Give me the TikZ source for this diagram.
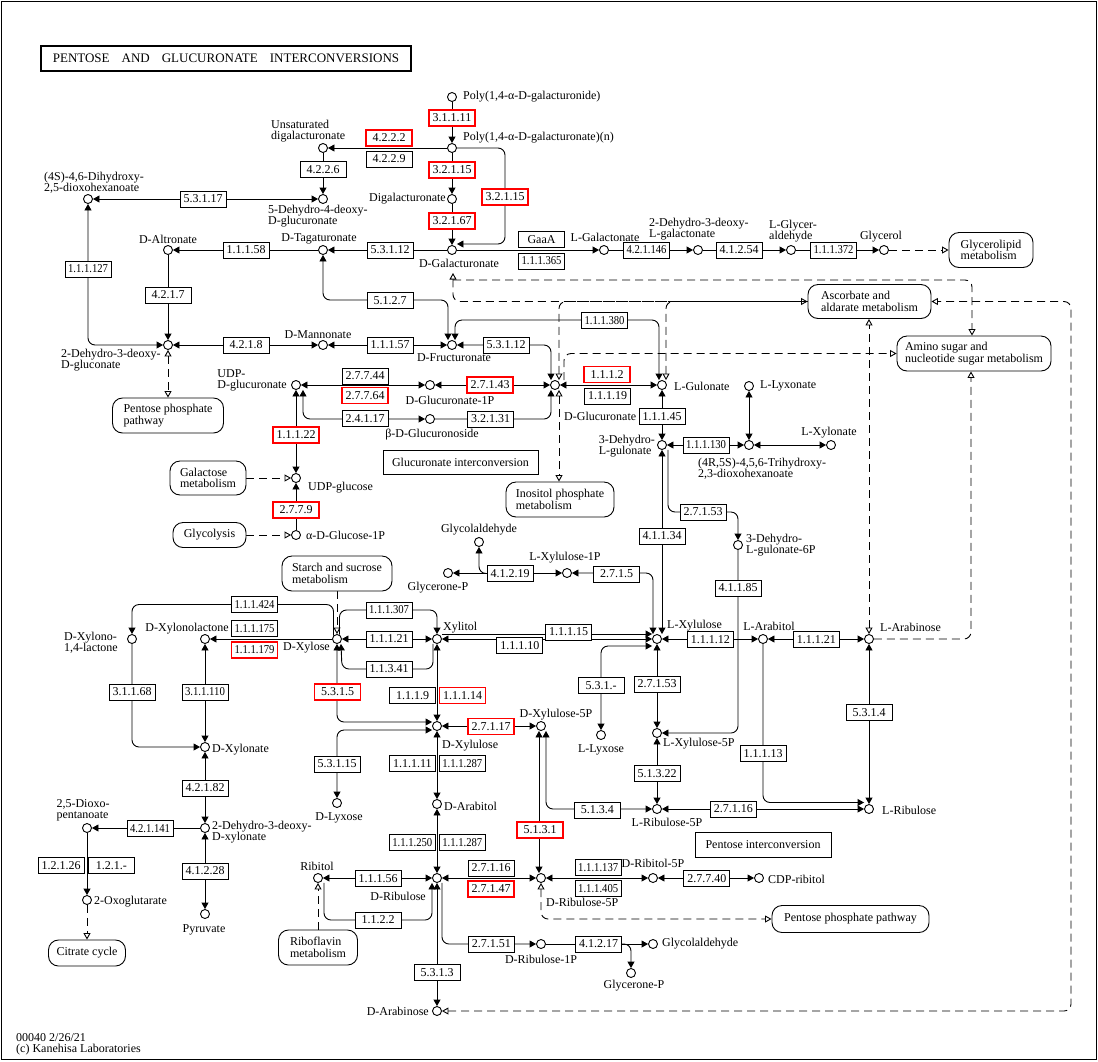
\documentclass[tikz,border=0pt]{standalone}
\usepackage{fontspec}
\setmainfont{Liberation Serif}
\usepackage{graphicx}
\usetikzlibrary{arrows.meta}
\pgfdeclarelayer{bg}
\pgfsetlayers{bg,main}
% squeeze long EC numbers into the box
\newcommand\ecn[1]{\setbox0=\hbox{#1}\ifdim\wd0>40pt\resizebox{40pt}{\height}{#1}\else#1\fi}

\tikzset{
  cpd/.style={circle, draw, fill=white, line width=0.9pt, minimum size=9pt, inner sep=0pt},
  lbl/.style={inner sep=0pt, align=left, font=\fontsize{12}{11}\selectfont},
  ec/.style={draw, fill=white, line width=0.9pt, minimum width=46pt, minimum height=16pt, inner sep=0pt, font=\fontsize{12}{12}\selectfont},
  ecred/.style={ec, draw=red, line width=1.6pt},
  pathmap/.style={draw, fill=white, line width=0.9pt, rounded corners=10pt, inner sep=0pt, align=left, font=\fontsize{12}{11.5}\selectfont},
  textbox/.style={draw, fill=white, line width=0.9pt, inner sep=0pt, font=\fontsize{12}{12}\selectfont},
  rx/.style={line width=0.9pt, rounded corners=7pt},
  lnk/.style={line width=0.9pt, rounded corners=7pt, dash pattern=on 8pt off 5pt},
  >={Triangle[length=6.5pt,width=7pt]},
  otri/.tip={Triangle[open,length=6.5pt,width=7pt]},
}

\begin{document}
\begin{tikzpicture}[x=1pt,y=-1pt]
\useasboundingbox (0,0) rectangle (1098,1061);
\draw[line width=1pt] (1,1) rectangle (1096,1059);
\node[draw, line width=2pt, minimum width=370pt, minimum height=25pt, inner sep=0pt, font=\fontsize{13}{13}\selectfont] (title) at (226,58.5) {PENTOSE\hspace{12pt}AND\hspace{12pt}GLUCURONATE\hspace{12pt}INTERCONVERSIONS};

% compounds
\node[cpd] (pgn) at (452,97) {};
\node[cpd] (pga) at (452,148) {};
\node[cpd] (udg) at (323,148) {};
\node[cpd] (dhdg) at (323,199) {};
\node[cpd] (dhox) at (88,199) {};
\node[cpd] (dig) at (452,199) {};
\node[cpd] (dgal) at (452,250) {};
\node[cpd] (tag) at (323,250) {};
\node[cpd] (alt) at (168,250) {};
\node[cpd] (kdg) at (168,345) {};
\node[cpd] (man) at (323,345) {};
\node[cpd] (fru) at (452,345) {};
\node[cpd] (lgal) at (604,250) {};
\node[cpd] (kdgal) at (698,250) {};
\node[cpd] (lgla) at (791,250) {};
\node[cpd] (glyc) at (884,250) {};
\node[cpd] (udpga) at (296,385) {};
\node[cpd] (ga1p) at (430,385) {};
\node[cpd] (dglc) at (555,385) {};
\node[cpd] (lgul) at (662,385) {};
\node[cpd] (bglc) at (430,419) {};
\node[cpd] (udpg) at (296,478) {};
\node[cpd] (g1p) at (296,535) {};
\node[cpd] (kgul) at (662,445) {};
\node[cpd] (thdh) at (749,445) {};
\node[cpd] (llyxo) at (749,386) {};
\node[cpd] (lxyo) at (831,445) {};
\node[cpd] (kg6p) at (738,545) {};
\node[cpd] (lx1p) at (567,573) {};
\node[cpd] (gnp1) at (448,573) {};
\node[cpd] (gald1) at (479,542) {};
\node[cpd] (dxyl) at (337,639) {};
\node[cpd] (xylt) at (437,639) {};
\node[cpd] (lxyl) at (657,639) {};
\node[cpd] (larl) at (763,639) {};
\node[cpd] (lara) at (869,639) {};
\node[cpd] (dxlac) at (205,639) {};
\node[cpd] (dx14) at (132,639) {};
\node[cpd] (dxlo) at (205,747) {};
\node[cpd] (kdx) at (205,828) {};
\node[cpd] (dop) at (87,828) {};
\node[cpd] (ogl) at (87,900) {};
\node[cpd] (pyr) at (205,914) {};
\node[cpd] (dxlu) at (437,726) {};
\node[cpd] (x5p) at (541,726) {};
\node[cpd] (dlyx) at (337,803) {};
\node[cpd] (llyx) at (601,735) {};
\node[cpd] (lx5p) at (657,733) {};
\node[cpd] (lr5p) at (657,809) {};
\node[cpd] (lrib) at (869,809) {};
\node[cpd] (darl) at (437,804) {};
\node[cpd] (drib) at (437,878) {};
\node[cpd] (ribt) at (318,878) {};
\node[cpd] (r5p) at (541,878) {};
\node[cpd] (rt5p) at (653,878) {};
\node[cpd] (cdpr) at (759,878) {};
\node[cpd] (r1p) at (541,944) {};
\node[cpd] (gald2) at (653,944) {};
\node[cpd] (gnp2) at (631,973) {};
\node[cpd] (dara) at (437,1011) {};
\coordinate (dgalx) at (453,273);
\coordinate (dgaly) at (453,280);

% compound names
\node[lbl, anchor=west] (pgn-t) at (463,97) {Poly(1,4-α-D-galacturonide)};
\node[lbl, anchor=west] (pga-t) at (463,138) {Poly(1,4-α-D-galacturonate)(n)};
\node[lbl, anchor=south west] (udg-t) at (271,142) {Unsaturated\\digalacturonate};
\node[lbl, anchor=north west] (dhdg-t) at (268,205) {5-Dehydro-4-deoxy-\\D-glucuronate};
\node[lbl, anchor=south west] (dhox-t) at (44,194) {(4S)-4,6-Dihydroxy-\\2,5-dioxohexanoate};
\node[lbl, anchor=east] (dig-t) at (446,199) {Digalacturonate};
\node[lbl, anchor=north] (dgal-t) at (459,259) {D-Galacturonate};
\node[lbl, anchor=south] (tag-t) at (319,244) {D-Tagaturonate};
\node[lbl, anchor=south] (alt-t) at (168,244) {D-Altronate};
\node[lbl, anchor=north west] (kdg-t) at (61,349) {2-Dehydro-3-deoxy-\\D-gluconate};
\node[lbl, anchor=south] (man-t) at (318,339) {D-Mannonate};
\node[lbl, anchor=north] (fru-t) at (454,353) {D-Fructuronate};
\node[lbl, anchor=south] (lgal-t) at (605,242) {L-Galactonate};
\node[lbl, anchor=south west] (kdgal-t) at (649,240) {2-Dehydro-3-deoxy-\\L-galactonate};
\node[lbl, anchor=south west] (lgla-t) at (769,242) {L-Glycer-\\aldehyde};
\node[lbl, anchor=south] (glyc-t) at (881,242) {Glycerol};
\node[lbl, anchor=east] (udpga-t) at (287,380) {UDP-\\D-glucuronate};
\node[lbl, anchor=north] (ga1p-t) at (450,396) {D-Glucuronate-1P};
\node[lbl, anchor=west] (dglc-t) at (564,416) {D-Glucuronate};
\node[lbl, anchor=west] (lgul-t) at (674,386) {L-Gulonate};
\node[lbl, anchor=north] (bglc-t) at (432,429) {β-D-Glucuronoside};
\node[lbl, anchor=west] (udpg-t) at (308,488) {UDP-glucose};
\node[lbl, anchor=west] (g1p-t) at (306,535) {α-D-Glucose-1P};
\node[lbl, anchor=east] (kgul-t) at (655,446) {3-Dehydro-\\L-gulonate};
\node[lbl, anchor=north west] (thdh-t) at (698,458) {(4R,5S)-4,5,6-Trihydroxy-\\2,3-dioxohexanoate};
\node[lbl, anchor=west] (llyxo-t) at (760,386) {L-Lyxonate};
\node[lbl, anchor=south] (lxyo-t) at (829,438) {L-Xylonate};
\node[lbl, anchor=west] (kg6p-t) at (746,545) {3-Dehydro-\\L-gulonate-6P};
\node[lbl, anchor=south] (lx1p-t) at (565,563) {L-Xylulose-1P};
\node[lbl, anchor=north] (gnp1-t) at (438,582) {Glycerone-P};
\node[lbl, anchor=south] (gald1-t) at (479,535) {Glycolaldehyde};
\node[lbl, anchor=north east] (dxyl-t) at (330,642) {D-Xylose};
\node[lbl, anchor=south west] (xylt-t) at (443,633) {Xylitol};
\node[lbl, anchor=south west] (lxyl-t) at (667,631) {L-Xylulose};
\node[lbl, anchor=south] (larl-t) at (769,631) {L-Arabitol};
\node[lbl, anchor=south west] (lara-t) at (880,632) {L-Arabinose};
\node[lbl, anchor=south east] (dxlac-t) at (229,634) {D-Xylonolactone};
\node[lbl, anchor=east] (dx14-t) at (118,643) {D-Xylono-\\1,4-lactone};
\node[lbl, anchor=west] (dxlo-t) at (212,750) {D-Xylonate};
\node[lbl, anchor=west] (kdx-t) at (212,832) {2-Dehydro-3-deoxy-\\D-xylonate};
\node[lbl, anchor=south] (dop-t) at (83,821) {2,5-Dioxo-\\pentanoate};
\node[lbl, anchor=west] (ogl-t) at (94,902) {2-Oxoglutarate};
\node[lbl, anchor=north] (pyr-t) at (204,924) {Pyruvate};
\node[lbl, anchor=north west] (dxlu-t) at (442,740) {D-Xylulose};
\node[lbl, anchor=south] (x5p-t) at (556,720) {D-Xylulose-5P};
\node[lbl, anchor=north] (dlyx-t) at (339,812) {D-Lyxose};
\node[lbl, anchor=north] (llyx-t) at (601,744) {L-Lyxose};
\node[lbl, anchor=north west] (lx5p-t) at (663,738) {L-Xylulose-5P};
\node[lbl, anchor=north] (lr5p-t) at (667,818) {L-Ribulose-5P};
\node[lbl, anchor=west] (lrib-t) at (882,810) {L-Ribulose};
\node[lbl, anchor=west] (darl-t) at (444,806) {D-Arabitol};
\node[lbl, anchor=north east] (drib-t) at (426,892) {D-Ribulose};
\node[lbl, anchor=south] (ribt-t) at (317,871) {Ribitol};
\node[lbl, anchor=north west] (r5p-t) at (546,898) {D-Ribulose-5P};
\node[lbl, anchor=south] (rt5p-t) at (653,868) {D-Ribitol-5P};
\node[lbl, anchor=west] (cdpr-t) at (768,879) {CDP-ribitol};
\node[lbl, anchor=north] (r1p-t) at (541,955) {D-Ribulose-1P};
\node[lbl, anchor=west] (gald2-t) at (662,944) {Glycolaldehyde};
\node[lbl, anchor=north] (gnp2-t) at (634,980) {Glycerone-P};
\node[lbl, anchor=east] (dara-t) at (429,1011) {D-Arabinose};

% enzymes
\node[ecred] (e31111) at (452,118) {\ecn{3.1.1.11}};
\node[ecred] (e4222) at (389,138) {\ecn{4.2.2.2}};
\node[ec] (e4229) at (389,159) {\ecn{4.2.2.9}};
\node[ec] (e4226) at (323,169.5) {\ecn{4.2.2.6}};
\node[ecred] (e32115a) at (452,170) {\ecn{3.2.1.15}};
\node[ecred] (e32115b) at (505,197) {\ecn{3.2.1.15}};
\node[ecred] (e32167) at (452,221) {\ecn{3.2.1.67}};
\node[ec] (e53117) at (203,199) {\ecn{5.3.1.17}};
\node[ec] (e11158) at (246,250) {\ecn{1.1.1.58}};
\node[ec] (e53112a) at (390,250) {\ecn{5.3.1.12}};
\node[ec] (egaaa) at (541.5,239.5) {\ecn{GaaA}};
\node[ec] (e111365) at (541.5,261) {\ecn{1.1.1.365}};
\node[ec] (e421146) at (646.5,250) {\ecn{4.2.1.146}};
\node[ec] (e41254) at (739,250) {\ecn{4.1.2.54}};
\node[ec] (e111372) at (833.5,250) {\ecn{1.1.1.372}};
\node[ec] (e111127) at (88,269) {\ecn{1.1.1.127}};
\node[ec] (e4217) at (168,295) {\ecn{4.2.1.7}};
\node[ec] (e5127) at (390,300.5) {\ecn{5.1.2.7}};
\node[ec] (e111380) at (604.5,320.5) {\ecn{1.1.1.380}};
\node[ec] (e4218) at (246,345) {\ecn{4.2.1.8}};
\node[ec] (e11157) at (390,345) {\ecn{1.1.1.57}};
\node[ec] (e53112b) at (506,345) {\ecn{5.3.1.12}};
\node[ec] (e2744) at (365,376) {\ecn{2.7.7.44}};
\node[ecred] (e2764) at (365,395.5) {\ecn{2.7.7.64}};
\node[ec] (e24117) at (365,418.5) {\ecn{2.4.1.17}};
\node[ecred] (e27143) at (490,385) {\ecn{2.7.1.43}};
\node[ec] (e32131) at (490.5,419) {\ecn{3.2.1.31}};
\node[ecred] (e1112) at (607,374.5) {\ecn{1.1.1.2}};
\node[ec] (e11119) at (607.5,396) {\ecn{1.1.1.19}};
\node[ec] (e11145) at (662,416.5) {\ecn{1.1.1.45}};
\node[ec] (e111130) at (706,445) {\ecn{1.1.1.130}};
\node[ecred] (e11122) at (296,435) {\ecn{1.1.1.22}};
\node[ecred] (e2779) at (296,510) {\ecn{2.7.7.9}};
\node[ec] (e27153a) at (703,512) {\ecn{2.7.1.53}};
\node[ec] (e41134) at (662,536) {\ecn{4.1.1.34}};
\node[ec] (e41185) at (738,588) {\ecn{4.1.1.85}};
\node[ec] (e2715) at (616.5,574) {\ecn{2.7.1.5}};
\node[ec] (e41219) at (510,573.5) {\ecn{4.1.2.19}};
\node[ec] (e111424) at (254.5,604.5) {\ecn{1.1.1.424}};
\node[ec] (e111175) at (254.5,628.7) {\ecn{1.1.1.175}};
\node[ecred] (e111179) at (254.5,649.7) {\ecn{1.1.1.179}};
\node[ec] (e111307) at (389,610) {\ecn{1.1.1.307}};
\node[ec] (e11121a) at (389,639) {\ecn{1.1.1.21}};
\node[ec] (e11341) at (389,669) {\ecn{1.1.3.41}};
\node[ec] (e11115) at (568.7,632) {\ecn{1.1.1.15}};
\node[ec] (e11110) at (519.8,645.7) {\ecn{1.1.1.10}};
\node[ec] (e11112) at (710.3,639.5) {\ecn{1.1.1.12}};
\node[ec] (e11121b) at (816.3,639.5) {\ecn{1.1.1.21}};
\node[ecred] (e5315) at (337.5,692) {\ecn{5.3.1.5}};
\node[ec] (e1119) at (412.5,695.3) {\ecn{1.1.1.9}};
\node[ecred] (e11114) at (462.5,695.3) {\ecn{1.1.1.14}};
\node[ec] (e31168) at (132,692) {\ecn{3.1.1.68}};
\node[ec] (e311110) at (205,692) {\ecn{3.1.1.110}};
\node[ec] (e531x) at (601,685.3) {\ecn{5.3.1.-}};
\node[ec] (e27153b) at (657,684) {\ecn{2.7.1.53}};
\node[ec] (e5314) at (869,712.5) {\ecn{5.3.1.4}};
\node[ecred] (e27117) at (491,726.5) {\ecn{2.7.1.17}};
\node[ec] (e53115) at (337,764) {\ecn{5.3.1.15}};
\node[ec] (e11111) at (412.3,763.8) {\ecn{1.1.1.11}};
\node[ec] (e111287a) at (462.3,763.8) {\ecn{1.1.1.287}};
\node[ec] (e11113) at (763,753.7) {\ecn{1.1.1.13}};
\node[ec] (e51322) at (657,773.7) {\ecn{5.1.3.22}};
\node[ec] (e42182) at (205,788) {\ecn{4.2.1.82}};
\node[ec] (e5134) at (597.3,810) {\ecn{5.1.3.4}};
\node[ec] (e27116a) at (733.3,809) {\ecn{2.7.1.16}};
\node[ecred] (e5131) at (540,829.7) {\ecn{5.1.3.1}};
\node[ec] (e421141) at (150,828.5) {\ecn{4.2.1.141}};
\node[ec] (e111250) at (412.3,842.7) {\ecn{1.1.1.250}};
\node[ec] (e111287b) at (462.3,842.7) {\ecn{1.1.1.287}};
\node[ec] (e12126) at (61.2,865.5) {\ecn{1.2.1.26}};
\node[ec] (e121x) at (111.3,865.5) {\ecn{1.2.1.-}};
\node[ec] (e41228) at (205,871) {\ecn{4.1.2.28}};
\node[ec] (e27116b) at (491,868) {\ecn{2.7.1.16}};
\node[ecred] (e27147) at (491,889) {\ecn{2.7.1.47}};
\node[ec] (e111137) at (598.2,867.7) {\ecn{1.1.1.137}};
\node[ec] (e111405) at (598.2,888.8) {\ecn{1.1.1.405}};
\node[ec] (e11156) at (378,878.5) {\ecn{1.1.1.56}};
\node[ec] (e27740) at (706.8,878.5) {\ecn{2.7.7.40}};
\node[ec] (e1122) at (378,920) {\ecn{1.1.2.2}};
\node[ec] (e27151) at (491.3,944) {\ecn{2.7.1.51}};
\node[ec] (e41217) at (598.5,944) {\ecn{4.1.2.17}};
\node[ec] (e5313) at (437,972.7) {\ecn{5.3.1.3}};

% maps and titles
\node[pathmap, minimum width=84pt, minimum height=35pt] (glmap) at (991,250) {Glycerolipid\\metabolism};
\node[pathmap, minimum width=123pt, minimum height=34pt] (ascmap) at (869.5,301.5) {Ascorbate and\\aldarate metabolism};
\node[pathmap, minimum width=154pt, minimum height=35pt] (amimap) at (974,353.5) {Amino sugar and\\nucleotide sugar metabolism};
\node[pathmap, minimum width=111pt, minimum height=35pt] (ppp1) at (168,415.5) {Pentose phosphate\\pathway};
\node[pathmap, minimum width=76pt, minimum height=34pt] (galmap) at (208,478) {Galactose\\metabolism};
\node[pathmap, minimum width=73pt, minimum height=25pt] (glymap) at (209.5,535) {Glycolysis};
\node[pathmap, minimum width=108pt, minimum height=35pt] (inomap) at (560,499.5) {Inositol phosphate\\metabolism};
\node[pathmap, minimum width=110pt, minimum height=35pt] (stamap) at (337,573.5) {Starch and sucrose\\metabolism};
\node[pathmap, minimum width=77pt, minimum height=26pt] (citmap) at (87,953) {Citrate cycle};
\node[pathmap, minimum width=79pt, minimum height=35pt] (ribmap) at (318,947.5) {Riboflavin\\metabolism};
\node[pathmap, minimum width=157pt, minimum height=27pt] (ppp2) at (850.5,919) {Pentose phosphate pathway};
\node[textbox, minimum width=155pt, minimum height=24pt] (gicbox) at (460.5,462) {Glucuronate interconversion};
\node[textbox, minimum width=136pt, minimum height=25pt] (picbox) at (763,844.5) {Pentose interconversion};
\node[lbl, anchor=north west, font=\fontsize{12}{11.5}\selectfont] (credit) at (16,1033) {00040 2/26/21\\(c) Kanehisa Laboratories};

\begin{pgfonlayer}{bg}
% galacturonate
\draw[rx,->] (pgn) -- (pga);
\draw[rx,->] (pga) -- (udg);
\draw[rx,->] (udg) -- (dhdg);
\draw[rx,<->] (dhox) -- (dhdg);
\draw[rx,->] (pga) -- (dig);
\draw[rx,->] (dig) -- (dgal);
\draw[rx,->] (pga) -| (505,244) -- ([yshift=6pt]dgal.east);
\draw[rx,->] (dgal) -- (tag);
\draw[rx,->] (tag) -- (alt);
\draw[rx,->] (alt) -- (kdg);
\draw[rx,<->] (kdg) -| (dhox);
\draw[rx,<->] (man) -- (kdg);
\draw[rx,<->] (man) -- (fru);
\draw[rx,<->] (tag) |- (448,300) -- ([xshift=-4pt]fru.north);
\draw[rx,<->] ([xshift=3pt]fru.north) |- (659,320) -- ([xshift=-3pt]lgul.north);
\draw[rx,<->] (fru) -| ([xshift=-4pt]dglc.north);
\draw[rx,->] (dgal) -- (lgal);
\draw[rx,->] (lgal) -- (kdgal);
\draw[rx,->] (kdgal) -- (lgla);
\draw[rx,->] (lgla) -- (glyc);
% glucuronate
\draw[rx,<->] (udpga) -- (ga1p);
\draw[rx,<->] (ga1p) -- (dglc);
\draw[rx,<->] (dglc) -- (lgul);
\draw[rx,->] (bglc) -| ([xshift=-4pt]dglc.south);
\draw[rx,<->] ([xshift=7pt]udpga.south) |- (bglc);
\draw[rx,<->] (udpg) -- (udpga);
\draw[rx,->] (g1p) -- (udpg);
% L-gulonate
\draw[rx,<->] (kgul) -- (lgul);
\draw[rx,<->] (thdh) -- (kgul);
\draw[rx,<->] (thdh) -- (llyxo);
\draw[rx,<->] (thdh) -- (lxyo);
\draw[rx,->] ([xshift=6pt]kgul.south) |- (738,512) -- (kg6p);
\draw[rx,<->] (kgul) -- ([xshift=5pt]lxyl.north);
\draw[rx,->] (kg6p) |- (lx5p);
\draw[rx,<->] (lx1p) -| ([xshift=-4pt]lxyl.north);
\draw[rx,<->] (gnp1) -- (lx1p);
\draw[rx,->] (e41219.west) -| (gald1);
% xylose
\draw[rx,->] (dxyl) -- (dxlac);
\draw[rx,->] (dxyl.135) |- (132,604.5) -- (dx14);
\draw[rx,->] (dx14) |- (dxlo);
\draw[rx,<->] (dxlac) -- (dxlo);
\draw[rx,<->] (dxlo) -- (kdx);
\draw[rx,->] (kdx) -- (dop);
\draw[rx,->] (dop) -- (ogl);
\draw[rx,<->] (kdx) -- (pyr);
\draw[rx,->] (dxyl.60) |- (437,610) -- (xylt);
\draw[rx,<->] (dxyl) -- (xylt);
\draw[rx,->] ([xshift=-4pt]xylt.south) |- (342,669) -- ([xshift=4pt]dxyl.south);
\draw[rx,<->] (dxyl) |- ([yshift=4pt]dxlu.west);
\draw[rx,<->] ([yshift=-4pt]dxlu.west) -| (dlyx);
\draw[rx,<->] (xylt) -- (dxlu);
\draw[rx,<->] (dxlu) -- (x5p);
\draw[rx,<->] (dxlu) -- (darl);
\draw[rx,<->] (darl) -- (drib);
\draw[rx,<->] (ribt) -- (drib);
\draw[rx,->] ([xshift=6pt]ribt.south) |- (432,920) -- ([xshift=-5pt]drib.south);
\draw[rx,<->] (drib) -- (dara);
\draw[rx,<->] (drib) -- (r5p);
\draw[rx,->] ([xshift=5pt]drib.south) |- (r1p);
\draw[rx,->] (r1p) -- (gald2);
\draw[rx,->] (e41217.east) -| (gnp2);
\draw[rx,<->] ([xshift=-2pt]x5p.south) -- ([xshift=-2pt]r5p.north);
\draw[rx,<->] ([xshift=5pt]x5p.south) |- (lr5p);
\draw[rx,<->] (r5p) -- (rt5p);
\draw[rx,<->] (rt5p) -- (cdpr);
% L-xylulose
\draw[rx,->] ([yshift=5pt]xylt.east) -- ([yshift=5pt]lxyl.west);
\draw[rx,<->] (xylt) -- (lxyl);
\draw[rx,<->] ([yshift=-7pt]lxyl.west) -| (llyx);
\draw[rx,<->] (lxyl) -- (lx5p);
\draw[rx,<->] (lx5p) -- (lr5p);
\draw[rx,<->] (lxyl) -- (larl);
\draw[rx,<->] (larl) -- (lara);
\draw[rx,<->] (lara) -- (lrib);
\draw[rx,->] (larl) |- ([yshift=6.5pt]lrib.west);
\draw[rx,<->] (lr5p) -- (lrib);
% links to other maps
\draw[lnk,-{otri}] (glyc) -- (glmap);
\draw[lnk,{otri}-{otri}] (dgalx) |- (ascmap.west);
\draw[lnk,-{otri}] (dgaly) -| ([xshift=-2pt]amimap.north);
\draw[lnk,{otri}-] ([xshift=4pt]dglc.north) |- (ascmap.west);
\draw[lnk,-{otri}] ([xshift=9pt]dglc.north) |- (amimap.west);
\draw[lnk,{otri}-] ([xshift=4pt]lgul.north) |- (ascmap.west);
\draw[lnk,{otri}-{otri}] (lara) -- (lara |- ascmap.south);
\draw[lnk,-{otri}] (lara) -| ([xshift=-3pt]amimap.south);
\draw[lnk,{otri}-{otri}] (dara) -| (1071,400) |- (ascmap.east);
\draw[lnk,{otri}-{otri}] (r5p) |- (ppp2.west);
\draw[lnk,-{otri}] (ribmap) -- (ribt);
\draw[lnk,-{otri}] (ogl) -- (citmap);
\draw[lnk,-{otri}] (stamap) -- (dxyl);
\draw[lnk,-{otri}] (galmap) -- (udpg);
\draw[lnk,-{otri}] (glymap) -- (g1p);
\draw[lnk,{otri}-{otri}] (kdg) -- (ppp1);
\draw[lnk,{otri}-{otri}] ([xshift=4pt]dglc.south) -- ([xshift=4pt]dglc.south |- inomap.north);
\end{pgfonlayer}
\end{tikzpicture}
\end{document}
